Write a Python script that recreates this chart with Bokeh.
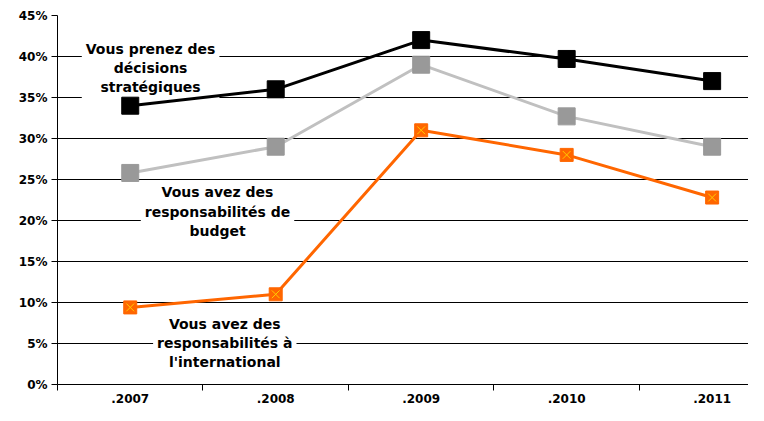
from bokeh.plotting import figure
from bokeh.models import FixedTicker, Range1d, Label
from bokeh.embed import file_html
from bokeh.resources import INLINE

years = [".2007", ".2008", ".2009", ".2010", ".2011"]
strategic = [34.0, 36.0, 42.0, 39.7, 37.0]
budget = [25.8, 29.0, 39.0, 32.7, 29.0]
international = [9.4, 11.0, 31.0, 28.0, 22.8]
y_ticks = [0, 5, 10, 15, 20, 25, 30, 35, 40, 45]
grid_levels = [5, 10, 15, 20, 25, 30, 35, 40]
label_texts = [
    "Vous prenez des\ndécisions\nstratégiques",
    "Vous avez des\nresponsabilités de\nbudget",
    "Vous avez des\nresponsabilités à\nl'international",
]
label_x = [0.64, 1.10, 1.15]
label_y = [42.4, 24.9, 8.9]

xs = [i + 0.5 for i in range(len(years))]

p = figure(width=748, height=405, output_backend="svg", toolbar_location=None,
           x_range=Range1d(0, 4.75), y_range=Range1d(0, 45),
           min_border_left=57, min_border_right=0, min_border_top=15, min_border_bottom=17)
p.outline_line_color = None
p.background_fill_color = "white"

# axes
p.xaxis.ticker = FixedTicker(ticks=xs, minor_ticks=list(range(len(years) + 1)))
p.xaxis.major_label_overrides = {x: y for x, y in zip(xs, years)}
p.xaxis.major_tick_line_color = None
p.xaxis.major_tick_out = 0
p.xaxis.major_tick_in = 0
p.xaxis.minor_tick_out = 6
p.xaxis.minor_tick_in = 0
p.xaxis.minor_tick_line_color = "black"
p.xaxis.major_label_standoff = 3
p.xaxis.axis_line_color = "black"

p.yaxis.ticker = FixedTicker(ticks=y_ticks)
p.yaxis.major_label_overrides = {t: f"{t}%" for t in y_ticks}
p.yaxis.minor_tick_line_color = None
p.yaxis.major_tick_out = 6
p.yaxis.major_tick_in = 0
p.yaxis.major_tick_line_color = "black"
p.yaxis.major_label_standoff = 4
p.yaxis.axis_line_color = "black"

for ax in (p.xaxis, p.yaxis):
    ax.major_label_text_font = "DejaVu Sans"
    ax.major_label_text_font_style = "bold"
    ax.major_label_text_font_size = "12px"
    ax.major_label_text_color = "black"

p.xgrid.grid_line_color = None
p.ygrid.ticker = FixedTicker(ticks=grid_levels)
p.ygrid.grid_line_color = "black"
p.ygrid.grid_line_width = 1

for t, lx, ly in zip(label_texts, label_x, label_y):
    p.add_layout(Label(x=lx, y=ly, text=t, text_align="center", text_baseline="top",
                       text_font="DejaVu Sans", text_font_style="bold", text_font_size="14px",
                       text_color="black", text_line_height=1.2,
                       background_fill_color="white", padding=4, level="underlay"))

# series
p.line(xs, budget, line_color="#C0C0C0", line_width=3)
p.scatter(xs, budget, marker="square", size=17, fill_color="#999999", line_color="#999999")
p.line(xs, strategic, line_color="black", line_width=3)
p.scatter(xs, strategic, marker="square", size=17, fill_color="black", line_color="black")
p.line(xs, international, line_color="#FF6600", line_width=3)
p.scatter(xs, international, marker="square", size=13, fill_color="#FF6600", line_color="#FF6600")
p.scatter(xs, international, marker="x", size=11, line_color="#FFCC00", line_width=1)

open("out.html", "w").write(file_html(p, INLINE))
